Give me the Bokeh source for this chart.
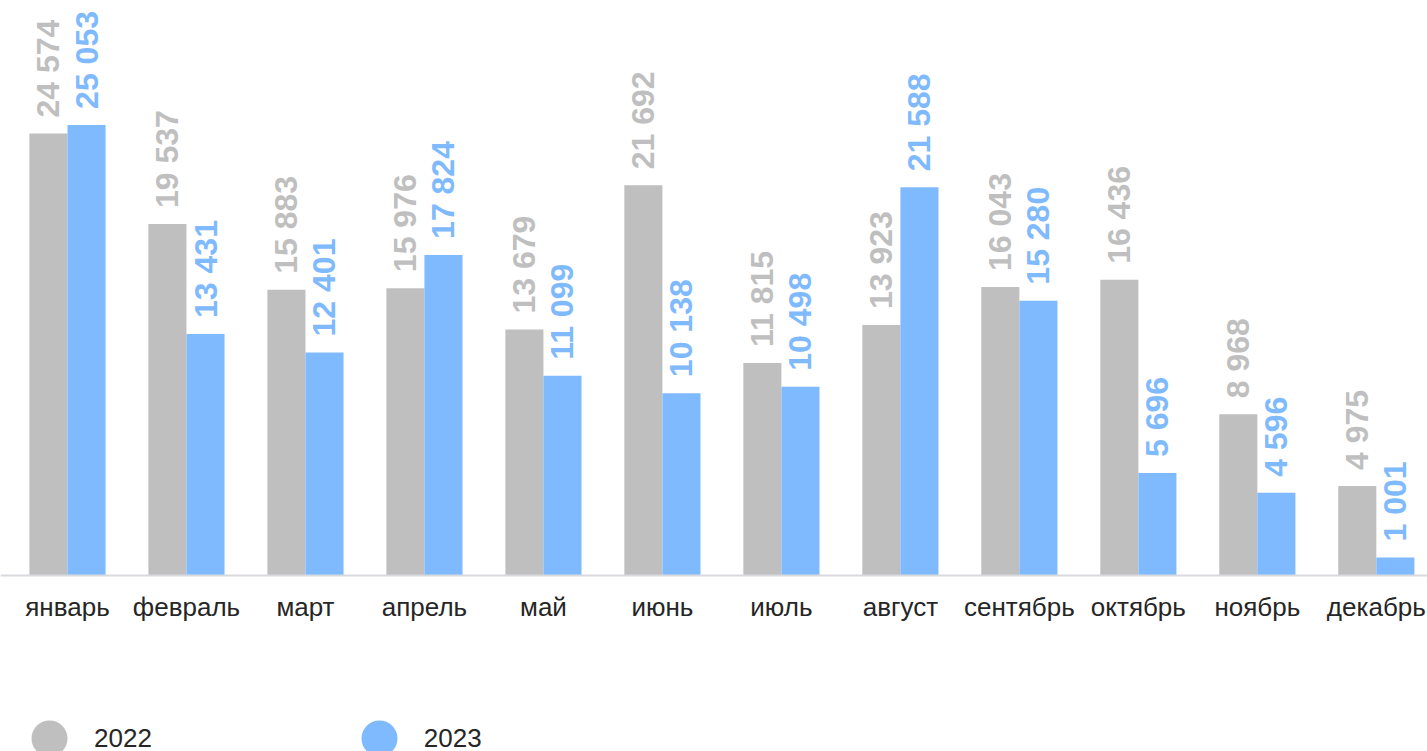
import math
from bokeh.plotting import figure
from bokeh.models import ColumnDataSource, Legend, LegendItem, Range1d, Span
from bokeh.transform import dodge
from bokeh.core.properties import value
from bokeh.embed import file_html
from bokeh.resources import INLINE

months = ["январь", "февраль", "март", "апрель", "май", "июнь",
          "июль", "август", "сентябрь", "октябрь", "ноябрь", "декабрь"]
values_2022 = [24574, 19537, 15883, 15976, 13679, 21692, 11815, 13923, 16043, 16436, 8968, 4975]
values_2023 = [25053, 13431, 12401, 17824, 11099, 10138, 10498, 21588, 15280, 5696, 4596, 1001]
series_names = ["2022", "2023"]

GRAY = "#BFBFBF"
BLUE = "#7FBAFF"
TEXT = "#262626"
FONT = "Liberation Sans"


def fmt(v):
    return f"{v:,}".replace(",", " ")


src = ColumnDataSource(dict(
    idx=list(range(len(months))),
    month=months,
    v22=values_2022,
    v23=values_2023,
    l22=[fmt(v) for v in values_2022],
    l23=[fmt(v) for v in values_2023],
))

p = figure(x_range=Range1d(-0.563, 11.43), y_range=Range1d(-9786, 31969),
           width=1427, height=751,
           output_backend="svg", toolbar_location=None,
           x_axis_location=None, y_axis_location=None,
           min_border=0, outline_line_color=None,
           background_fill_color="white", border_fill_color="white")
p.grid.visible = False

# baseline
p.add_layout(Span(location=0, dimension="width", line_color="#D9D9DE", line_width=2))

p.vbar(x=dodge("idx", -0.16), top="v22", width=0.32,
       source=src, fill_color=GRAY, line_color=None)
p.vbar(x=dodge("idx", 0.16), top="v23", width=0.32,
       source=src, fill_color=BLUE, line_color=None)

common = dict(angle=math.pi / 2, text_align="left", text_baseline="middle",
              text_font=value(FONT), text_font_size="32px",
              text_font_style="bold", y_offset=-16, source=src)
p.text(x=dodge("idx", -0.16), y="v22", text="l22", text_color=GRAY, **common)
p.text(x=dodge("idx", 0.16), y="v23", text="l23", text_color=BLUE, **common)

# category labels under the baseline
p.text(x="idx", y=0, text="month", source=src, y_offset=32,
       text_align="center", text_baseline="middle",
       text_font=value(FONT), text_font_size="26px", text_color=TEXT)

# legend glyphs (a single NaN point each; used only for the legend)
nan = float("nan")
r22 = p.scatter(x=[nan], y=[nan], marker="circle", fill_color=GRAY, line_color=None)
r23 = p.scatter(x=[nan], y=[nan], marker="circle", fill_color=BLUE, line_color=None)

legend = Legend(items=[LegendItem(label=series_names[0], renderers=[r22]),
                       LegendItem(label=series_names[1], renderers=[r23])],
                orientation="horizontal", location=(4, -32),
                glyph_width=90, glyph_height=90, label_standoff=0,
                spacing=182, padding=0, margin=0,
                border_line_color=None, background_fill_alpha=0,
                label_text_font=FONT, label_text_font_size="26px",
                label_text_color=TEXT)
p.add_layout(legend, "center")

open("out.html", "w").write(file_html(p, INLINE))
